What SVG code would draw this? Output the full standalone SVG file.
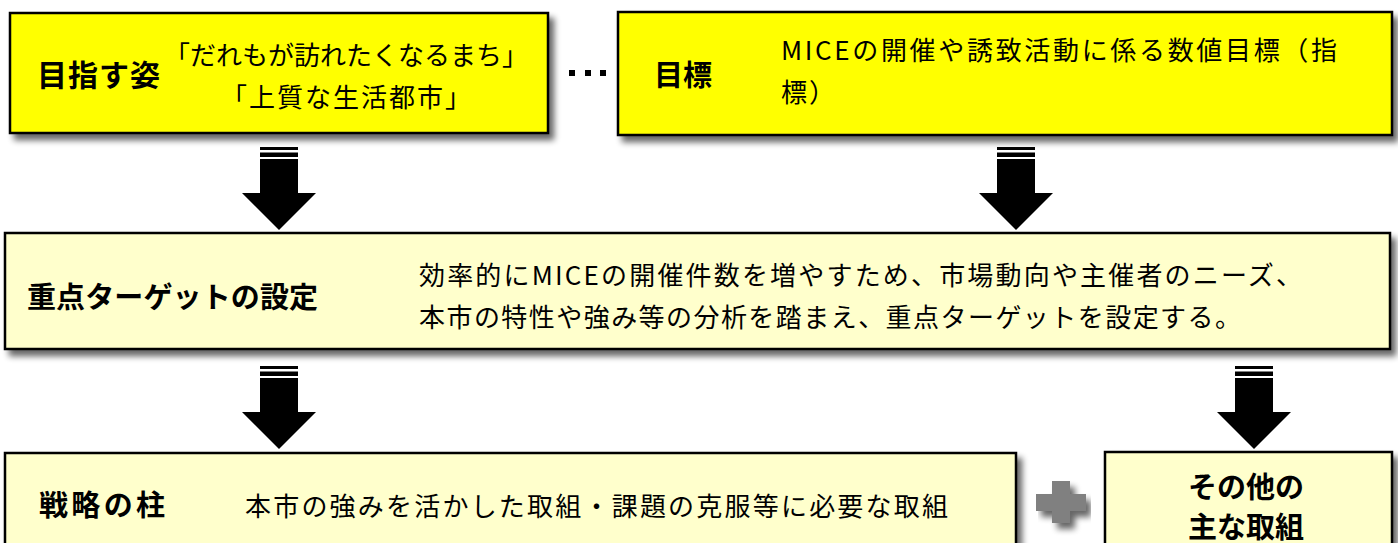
<svg xmlns="http://www.w3.org/2000/svg" width="1398" height="543" viewBox="0 0 1398 543">
<style>
.t{font-family:"Noto Sans CJK JP","Liberation Sans",sans-serif;fill:#000}
.b{font-weight:bold}
.n{font-weight:normal}
.top{fill:#FFFF00;stroke:#000;stroke-width:2.5}
.low{fill:#FFFFCC;stroke:#000;stroke-width:2.5}
.arr{fill:#000}
</style>
<defs>
<filter id="sh" x="-5%" y="-20%" width="115%" height="150%">
<feGaussianBlur in="SourceAlpha" stdDeviation="3"/>
<feOffset dx="5" dy="6" result="o"/>
<feComponentTransfer><feFuncA type="linear" slope="0.6"/></feComponentTransfer>
<feMerge><feMergeNode/><feMergeNode in="SourceGraphic"/></feMerge>
</filter>
<g id="arrow">
<rect x="-19" y="0" width="38" height="3"/>
<rect x="-19" y="5.5" width="38" height="4.5"/>
<polygon points="-19,12 19,12 19,46 37,46 0,83 -37,46 -19,46"/>
</g>
</defs>
<rect width="1398" height="543" fill="#fff"/>

<g id="node-goal">
<rect class="top" x="10" y="13" width="538" height="120" filter="url(#sh)"/>
<text class="t b" x="37" y="86" font-size="30" textLength="123" lengthAdjust="spacing">目指す姿</text>
<text class="t n" x="164" y="65" font-size="26" textLength="364" lengthAdjust="spacing">「だれもが訪れたくなるまち」</text>
<text class="t n" x="221" y="107" font-size="26" textLength="250" lengthAdjust="spacing">「上質な生活都市」</text>
</g>

<g id="dots">
<rect x="569" y="70" width="6" height="6"/>
<rect x="585" y="70" width="6" height="6"/>
<rect x="600" y="70" width="6" height="6"/>
</g>

<g id="node-target">
<rect class="top" x="618" y="12" width="774" height="123" filter="url(#sh)"/>
<text class="t b" x="654" y="86" font-size="29" textLength="58" lengthAdjust="spacing">目標</text>
<text class="t n" x="781" y="60" font-size="26" textLength="556" lengthAdjust="spacing">MICEの開催や誘致活動に係る数値目標（指</text>
<text class="t n" x="781" y="102" font-size="26" textLength="54" lengthAdjust="spacing">標）</text>
</g>

<g id="node-focus">
<rect class="low" x="5" y="233" width="1385" height="116" filter="url(#sh)"/>
<text class="t b" x="27" y="308" font-size="29" textLength="291" lengthAdjust="spacing">重点ターゲットの設定</text>
<text class="t n" x="419" y="285" font-size="26" textLength="883" lengthAdjust="spacing">効率的にMICEの開催件数を増やすため、市場動向や主催者のニーズ、</text>
<text class="t n" x="419" y="327" font-size="26" textLength="822" lengthAdjust="spacing">本市の特性や強み等の分析を踏まえ、重点ターゲットを設定する。</text>
</g>

<g id="node-pillar">
<rect class="low" x="5" y="453" width="1011" height="110" filter="url(#sh)"/>
<text class="t b" x="39" y="516" font-size="29" textLength="126" lengthAdjust="spacing">戦略の柱</text>
<text class="t n" x="245" y="516" font-size="26" textLength="703" lengthAdjust="spacing">本市の強みを活かした取組・課題の克服等に必要な取組</text>
</g>

<g id="plus" filter="url(#sh)">
<rect x="1052" y="481" width="18" height="42" fill="#808080"/>
<rect x="1036" y="494" width="50" height="17" fill="#808080"/>
</g>

<g id="node-other">
<rect class="low" x="1105" y="452" width="287" height="110" filter="url(#sh)"/>
<text class="t b" x="1246" y="498" font-size="29" text-anchor="middle">その他の</text>
<text class="t b" x="1246" y="538" font-size="29" text-anchor="middle">主な取組</text>
</g>

<g id="connectors" class="arr">
<use href="#arrow" x="279" y="147"/>
<use href="#arrow" x="1016" y="147"/>
<use href="#arrow" x="279" y="366"/>
<use href="#arrow" x="1254" y="366"/>
</g>
</svg>
